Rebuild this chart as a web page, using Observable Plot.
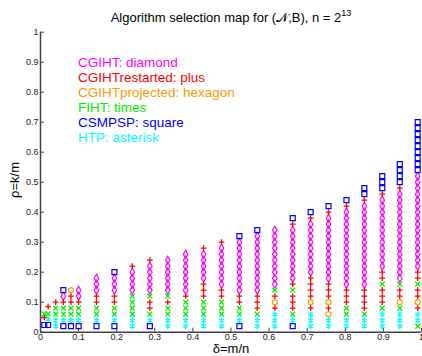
<!DOCTYPE html>
<html><head><meta charset="utf-8">
<script src="https://cdn.jsdelivr.net/npm/d3@7"></script>
<script src="https://cdn.jsdelivr.net/npm/@observablehq/plot@0.6"></script>
<style>
body{margin:0;background:#fff;font-family:"Liberation Sans",Arial,Helvetica,sans-serif;}
#wrap{position:relative;width:422px;height:356px;overflow:hidden;background:#fff}
#wrap svg{position:absolute;left:0;top:0}
.ov{position:absolute;white-space:nowrap;color:#000}
#title{left:0;width:462px;top:10.5px;text-align:center;font-size:13px;line-height:14px}
#title sup{font-size:9px;vertical-align:0;position:relative;top:-6px}
#legend{left:78px;top:54.5px;font-size:13.5px;line-height:15px}
#xlabel{left:0;width:462px;top:344px;height:10px;text-align:center;font-size:13px;line-height:10px}
#ylabel{left:-15px;top:172px;width:60px;height:16px;line-height:16px;text-align:center;font-size:13px;transform:rotate(-90deg)}
</style>
</head><body>
<div id="wrap"></div>
<script>
// Algorithms (legend order), their marker names and colours
const algNames = ["CGIHT", "CGIHTrestarted", "CGIHTprojected", "FIHT", "CSMPSP", "HTP"];
const algMarkers = ["diamond", "plus", "hexagon", "times", "square", "asterisk"];
const algCodes = ["D", "P", "H", "X", "S", "A"];
const algColors = ["#ff00ff", "#ff0000", "#ff9900", "#00ee00", "#0000ff", "#00ffff"];

// delta = m/n columns
const deltas = [0.01, 0.02, 0.04, 0.06, 0.08, 0.10, 0.147, 0.194, 0.241, 0.287, 0.334, 0.381, 0.428,
  0.475, 0.522, 0.569, 0.615, 0.662, 0.709, 0.756, 0.803, 0.850, 0.897, 0.943, 0.99];

// rho values tested in the two leftmost columns (coarse m)
const rhoCol1 = [0.024, 0.049, 0.061];
const rhoCol2 = [0.024, 0.043, 0.061, 0.085];
// other columns: rho grid step
const rhoStep = 0.02;

// fastest algorithm per cell, from lowest rho upward (codes as in algCodes)
const winners = [
  "SPX",
  "SAXP",
  "AAXXP",
  "SAXXPDS",
  "SAXXPPH",
  "SAXXPDD",
  "SAXXPPDDD",
  "SAXXPPDDDS",
  "AAXXXXDDDDP",
  "SAXPPXDDDDDP",
  "AAXXPXDDDDDD",
  "AAXXXPDDDDDDD",
  "AAXXXPPPDDDDDP",
  "AAXXXPPDDDDDDDP",
  "SAXXPPDDDDDDDDDS",
  "AAXPPPDDDDDDDDDDS",
  "AAAPHPXDDDDDDDDDD",
  "SAXPPPXPDDDDDDDDDPS",
  "AAAPHPPPPDDDDDDDDDPS",
  "AAHPHPPPDDDDDDDDDDDPS",
  "AAXXPPPDDDDDDDDDDDDDPS",
  "AAXPPPPDDDDDDDDDDDDDDPSS",
  "AAAXPPPXPPDDDDDDDDDDDDPSSS",
  "AAAXHPPXDDDDDDDDDDDDDDDPSSSS",
  "XAAPHPPXPPDDDDDDDDDDDDDDDDSSSSSSSSS"
];

const xTicks = [0, 0.1, 0.2, 0.3, 0.4, 0.5, 0.6, 0.7, 0.8, 0.9, 1];
const yTicks = [0, 0.1, 0.2, 0.3, 0.4, 0.5, 0.6, 0.7, 0.8, 0.9, 1];

// build table
const cells = [];
deltas.forEach((d, i) => {
  const s = winners[i];
  const rhos = i === 0 ? rhoCol1 : i === 1 ? rhoCol2 : null;
  for (let j = 0; j < s.length; j++) {
    cells.push({delta: d, rho: rhos ? rhos[j] : +(rhoStep * (j + 1)).toFixed(3), code: s[j]});
  }
});

const markerR = {diamond: 2.4, plus: 2.0, hexagon: 2.4, times: 2.3, square: 2.8, asterisk: 2.6};
const markerW = {diamond: 1.2, plus: 1.3, hexagon: 1.2, times: 1.3, square: 1.2, asterisk: 1.5};

const dotMarks = algCodes.map((c, i) => Plot.dot(cells.filter(e => e.code === c), {
  x: "delta", y: "rho", symbol: algMarkers[i], stroke: algColors[i], fill: "none",
  r: markerR[algMarkers[i]], strokeWidth: markerW[algMarkers[i]]
}));

const axisColor = "#404040";
const chart = Plot.plot({
  width: 422, height: 356,
  marginLeft: 40, marginRight: 1, marginTop: 31.7, marginBottom: 24.3,
  style: {fontFamily: '"Liberation Sans", Arial, sans-serif', fontSize: "9px", color: "#222", background: "transparent", overflow: "visible"},
  x: {domain: [0, 1]},
  y: {domain: [0, 1]},
  marks: [
    Plot.axisX({ticks: xTicks, tickFormat: "~g", tickSize: -4, tickPadding: 5, label: null, stroke: axisColor}),
    Plot.axisY({ticks: yTicks, tickFormat: "~g", tickSize: -4, tickPadding: 6, label: null, stroke: axisColor}),
    Plot.ruleX([0], {stroke: axisColor, strokeWidth: 1.5}),
    Plot.ruleY([0], {stroke: axisColor, strokeWidth: 1.5}),
    ...dotMarks
  ]
});

const wrap = document.getElementById("wrap");
wrap.appendChild(chart);

function add(id, html) {
  const d = document.createElement("div");
  d.className = "ov"; d.id = id; d.innerHTML = html; wrap.appendChild(d);
  return d;
}
add("title", "Algorithm selection map for (𝒩,B), n = 2<sup>13</sup>");
add("legend", algNames.map((n, i) =>
  `<div style="color:${algColors[i]}">${n}: ${algMarkers[i]}</div>`).join(""));
add("xlabel", "δ=m/n");
add("ylabel", "ρ=k/m");
</script>
</body></html>
